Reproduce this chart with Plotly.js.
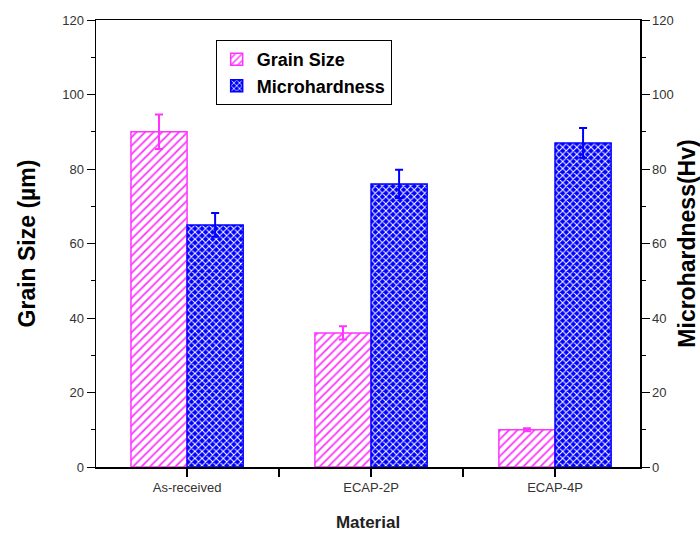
<!DOCTYPE html>
<html><head><meta charset="utf-8">
<script src="https://cdn.plot.ly/plotly-3.0.1.min.js"></script>
<style>html,body{margin:0;padding:0;background:#fff}</style>
</head><body>
<div id="chart" style="width:700px;height:535px"></div>
<script>
const categories = ["As-received", "ECAP-2P", "ECAP-4P"];
const grainSize = [90, 36, 10];
const grainErr = [4.6, 1.8, 0.4];
const microhardness = [65, 76, 87];
const microErr = [3.2, 3.8, 4.0];
const yTicks = [0, 20, 40, 60, 80, 100, 120];
const xTickPos = [0, 0.5, 1, 1.5, 2];
const xTickText = ["As-received", "", "ECAP-2P", "", "ECAP-4P"];

const F = "Liberation Sans, Arial, sans-serif";

const traces = [
  {
    type: "bar", name: "Grain Size", x: [0,1,2], y: grainSize,
    marker: {color: "#ffffff", line: {color: "#ff33ff", width: 1.5},
      pattern: {shape: "/", fgcolor: "#ff33ff", bgcolor: "#ffffff", size: 6, solidity: 0.3}},
    error_y: {type: "data", array: grainErr, visible: true, color: "#ff33ff", thickness: 2, width: 4},
    offsetgroup: "a"
  },
  {
    type: "bar", name: "Microhardness", x: [0,1,2], y: microhardness, yaxis: "y2",
    marker: {color: "#0000ff", line: {color: "#0000ff", width: 1.5},
      pattern: {shape: "x", fgcolor: "#ffffff", bgcolor: "#0000ff", size: 5, solidity: 0.35}},
    error_y: {type: "data", array: microErr, visible: true, color: "#0000ff", thickness: 2, width: 4},
    offsetgroup: "b"
  }
];

const axCommon = {
  range: [0, 120], tickvals: yTicks, showgrid: false, zeroline: false,
  showline: true, linecolor: "#000", linewidth: 1.5,
  ticks: "outside", ticklen: 8, tickcolor: "#000", tickwidth: 1,
  tickfont: {family: F, size: 13, color: "#333"},
  minor: {ticks: "outside", ticklen: 4, dtick: 10, tickcolor: "#000", tickwidth: 1}
};

const layout = {
  width: 700, height: 535,
  margin: {l: 96, r: 60, t: 20, b: 68},
  paper_bgcolor: "#fff", plot_bgcolor: "#fff",
  barmode: "group", bargap: 0.39, bargroupgap: 0,
  showlegend: true,
  legend: {x: 0.22, y: 0.955, xanchor: "left", yanchor: "top",
    bgcolor: "#fff", bordercolor: "#000", borderwidth: 1,
    font: {family: F, size: 18, color: "#000", weight: "bold"}, tracegroupgap: 0},
  xaxis: {
    range: [-0.495, 2.462], tickmode: "array", tickvals: xTickPos, ticktext: xTickText,
    showgrid: false, zeroline: false, showline: true, linecolor: "#000", linewidth: 1.5,
    mirror: true, ticks: "outside", ticklen: 8, tickwidth: 1.5, tickcolor: "#000",
    tickfont: {family: F, size: 13, color: "#333"},
    title: {text: "Material", font: {family: F, size: 17, color: "#222", weight: "bold"}, standoff: 22}
  },
  yaxis: Object.assign({}, axCommon, {
    title: {text: "Grain Size (µm)", font: {family: F, size: 23, color: "#000", weight: "bold"}, standoff: 20}
  }),
  yaxis2: Object.assign({}, axCommon, {
    overlaying: "y", side: "right",
    title: {text: "Microhardness(Hv)", font: {family: F, size: 23, color: "#000", weight: "bold"}, standoff: 6}
  })
};

Plotly.newPlot("chart", traces, layout, {displayModeBar: false, staticPlot: true});
</script>
</body></html>
